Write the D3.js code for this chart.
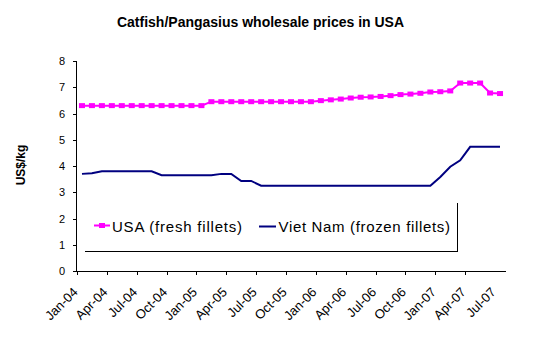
<!DOCTYPE html>
<html>
<head>
<meta charset="utf-8">
<script src="https://cdn.jsdelivr.net/npm/d3@7"></script>
<style>
  html, body { margin: 0; padding: 0; background: #fff; }
  svg { display: block; font-family: "Liberation Sans", Arial, sans-serif; }
</style>
</head>
<body>
<svg id="chart" width="550" height="337"></svg>
<script>
const categories = [
  "Jan-04","Feb-04","Mar-04","Apr-04","May-04","Jun-04","Jul-04","Aug-04","Sep-04","Oct-04","Nov-04","Dec-04",
  "Jan-05","Feb-05","Mar-05","Apr-05","May-05","Jun-05","Jul-05","Aug-05","Sep-05","Oct-05","Nov-05","Dec-05",
  "Jan-06","Feb-06","Mar-06","Apr-06","May-06","Jun-06","Jul-06","Aug-06","Sep-06","Oct-06","Nov-06","Dec-06",
  "Jan-07","Feb-07","Mar-07","Apr-07","May-07","Jun-07","Jul-07"
];
const usaFresh = [
  6.3, 6.3, 6.3, 6.3, 6.3, 6.3, 6.3, 6.3, 6.3, 6.3, 6.3, 6.3,
  6.3, 6.45, 6.45, 6.45, 6.45, 6.45, 6.45, 6.45, 6.45, 6.45, 6.45, 6.45,
  6.49, 6.52, 6.55, 6.59, 6.62, 6.63, 6.65, 6.68, 6.72, 6.74, 6.77, 6.82,
  6.83, 6.86, 7.16, 7.16, 7.16, 6.78, 6.76
];
const vietNamFrozen = [
  3.7, 3.72, 3.8, 3.8, 3.8, 3.8, 3.8, 3.8, 3.65, 3.65, 3.65, 3.65,
  3.65, 3.65, 3.7, 3.7, 3.43, 3.43, 3.25, 3.25, 3.25, 3.25, 3.25, 3.25,
  3.25, 3.25, 3.25, 3.25, 3.25, 3.25, 3.25, 3.25, 3.25, 3.25, 3.25, 3.25,
  3.58, 3.97, 4.22, 4.73, 4.73, 4.73, 4.73
];
const yTicks = [0, 1, 2, 3, 4, 5, 6, 7, 8];
const labelEvery = 3;
const seriesNames = ["USA  (fresh fillets)", "Viet Nam  (frozen fillets)"];
const titleText = "Catfish/Pangasius wholesale prices in USA";
const yAxisTitle = "US$/kg";

const svg = d3.select("#chart");
const plotLeft = 77, plotRight = 505, plotTop = 61, plotBottom = 271;

const x = d3.scaleBand().domain(categories).range([plotLeft, plotRight]).paddingInner(0).paddingOuter(0);
const xi = d3.scaleLinear().domain([0, categories.length]).range([plotLeft, plotRight]);
const y = d3.scaleLinear().domain([0, 8]).range([plotBottom, plotTop]);
const cx = c => x(c) + x.bandwidth() / 2;

// Title
svg.append("text")
  .attr("x", 260.5).attr("y", 27)
  .attr("text-anchor", "middle")
  .attr("font-size", "14px").attr("font-weight", "bold")
  .text(titleText);

// Y axis title
svg.append("text")
  .attr("transform", "translate(24.5,165) rotate(-90)")
  .attr("text-anchor", "middle")
  .attr("font-size", "12px").attr("font-weight", "bold")
  .text(yAxisTitle);

// Y axis
const yAxis = svg.append("g")
  .attr("transform", `translate(${plotLeft},0)`)
  .call(d3.axisLeft(y).tickValues(yTicks).tickSize(4).tickPadding(8).tickFormat(d3.format("d")));
yAxis.selectAll("path, line").attr("stroke", "#000").attr("shape-rendering", "crispEdges");
yAxis.selectAll("text").attr("font-size", "11px").attr("fill", "#000").attr("font-family", "Liberation Sans, Arial, sans-serif");
yAxis.select(".domain").attr("d", `M-0.5,${plotTop}V${plotBottom}`);

// X axis
const labelIdx = d3.range(0, categories.length, labelEvery);
const xAxis = svg.append("g")
  .attr("transform", `translate(0,${plotBottom})`)
  .call(d3.axisBottom(xi).tickValues(labelIdx).tickSize(4).tickSizeOuter(0).tickFormat(i => categories[i]));
xAxis.selectAll("path, line").attr("stroke", "#000").attr("shape-rendering", "crispEdges");
xAxis.selectAll(".tick").filter(d => d === labelIdx[labelIdx.length - 1]).select("line").remove();
xAxis.selectAll("text")
  .attr("font-size", "13px").attr("fill", "#000").attr("font-family", "Liberation Sans, Arial, sans-serif")
  .attr("text-anchor", "end")
  .attr("x", 0).attr("y", 0).attr("dy", 0)
  .attr("transform", "translate(1,22) rotate(-45)");

// Lines
const seriesLine = d3.line().x((d, i) => cx(categories[i])).y(d => y(d));
svg.append("path")
  .datum(vietNamFrozen)
  .attr("d", seriesLine)
  .attr("fill", "none").attr("stroke", "#000080").attr("stroke-width", 2);

svg.append("path")
  .datum(usaFresh)
  .attr("d", seriesLine)
  .attr("fill", "none").attr("stroke", "#FF00FF").attr("stroke-width", 2);

svg.append("g").selectAll("rect")
  .data(usaFresh)
  .join("rect")
  .attr("x", (d, i) => cx(categories[i]) - 3)
  .attr("y", d => y(d) - 2.5)
  .attr("width", 6).attr("height", 5)
  .attr("fill", "#FF00FF");

// Legend
const lg = svg.append("g");
lg.append("line").attr("x1", 457.5).attr("x2", 457.5).attr("y1", 203).attr("y2", 251.5).attr("stroke", "#000");
lg.append("line").attr("x1", 85).attr("x2", 458).attr("y1", 251.5).attr("y2", 251.5).attr("stroke", "#000");
lg.append("line").attr("x1", 94).attr("x2", 110).attr("y1", 225.5).attr("y2", 225.5).attr("stroke", "#FF00FF").attr("stroke-width", 2);
lg.append("rect").attr("x", 99).attr("y", 223).attr("width", 6).attr("height", 5).attr("fill", "#FF00FF");
lg.append("text").attr("x", 112).attr("y", 231.5).attr("font-size", "15px")
  .attr("textLength", 130).attr("lengthAdjust", "spacing").text(seriesNames[0]);
lg.append("line").attr("x1", 259).attr("x2", 276).attr("y1", 226.5).attr("y2", 226.5).attr("stroke", "#000080").attr("stroke-width", 2);
lg.append("text").attr("x", 278.5).attr("y", 231.5).attr("font-size", "15px")
  .attr("textLength", 171.5).attr("lengthAdjust", "spacing").text(seriesNames[1]);
</script>
</body>
</html>
